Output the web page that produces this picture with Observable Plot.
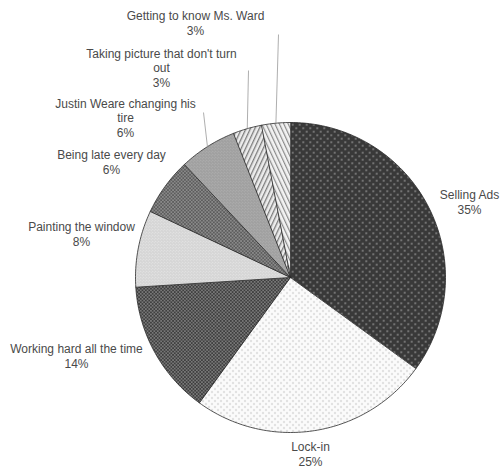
<!DOCTYPE html>
<html><head><meta charset="utf-8">
<script src="https://cdn.jsdelivr.net/npm/d3@7"></script>
<script src="https://cdn.jsdelivr.net/npm/@observablehq/plot@0.6"></script>
<style>body{margin:0;background:#fff}</style>
</head><body><div id="chart"></div>
<script>
// ---- data ----
const categories = ["Selling Ads","Lock-in","Working hard all the time","Painting the window","Being late every day","Justin Weare changing his tire","Taking picture that don't turn out","Getting to know Ms. Ward"];
const percents = [35, 25, 14, 8, 6, 6, 3, 3];
const labelText = ["Selling Ads","Lock-in","Working hard all the time","Painting the window","Being late every day","Justin Weare changing his\ntire","Taking picture that don't turn\nout","Getting to know Ms. Ward"];

// ---- layout ----
const W = 503, H = 469, CX = 290, CY = 277, R = 155;
const labelPos = [[469,201],[310,453],[76,355],[81,233],[111,161],[125,117],[161,67],[195,22]];
const leaderFrom = [null,null,null,null,null,[203,112],[248,70],[278,34]];
const ux = px => (px - CX) / R, uy = py => (CY - py) / R;

const arcs = d3.pie().sort(null).value(d => d)(percents);
const slicePts = [];
arcs.forEach((a, i) => {
  slicePts.push({name: categories[i], x: 0, y: 0});
  const n = Math.max(4, Math.ceil((a.endAngle - a.startAngle) / (Math.PI / 180)));
  for (let k = 0; k <= n; k++) {
    const t = a.startAngle + (a.endAngle - a.startAngle) * k / n;
    slicePts.push({name: categories[i], x: Math.sin(t), y: Math.cos(t)});
  }
});
const labels = categories.map((c, i) => ({
  name: c,
  text: labelText[i] + "\n" + percents[i] + "%",
  x: ux(labelPos[i][0]), y: uy(labelPos[i][1])
}));
const leaders = [];
arcs.forEach((a, i) => {
  if (!leaderFrom[i]) return;
  const m = (a.startAngle + a.endAngle) / 2;
  leaders.push({x1: ux(leaderFrom[i][0]), y1: uy(leaderFrom[i][1]), x2: Math.sin(m), y2: Math.cos(m)});
});
const patternIds = ["pSell","pLock","pWork","pPaint","pLate","pJustin","pPic","pWard"];

const chart = Plot.plot({
  width: W, height: H, margin: 0,
  style: {background: "#fff"},
  x: {domain: [ux(0), ux(W)], axis: null},
  y: {domain: [uy(H), uy(0)], axis: null},
  color: {type: "ordinal", domain: categories, range: patternIds.map(id => `url(#${id})`)},
  marks: [
    Plot.line(slicePts, {x: "x", y: "y", z: "name", fill: "name", stroke: "#2a2a2a", strokeWidth: 0.8, curve: "linear-closed"}),
    Plot.link(leaders, {x1: "x1", y1: "y1", x2: "x2", y2: "y2", stroke: "#999", strokeWidth: 0.8}),
    Plot.text(labels, {x: "x", y: "y", text: "text", fontSize: 12, lineHeight: 1.22, fill: "#4a4a4a", fontFamily: "'Liberation Sans', Arial, sans-serif"})
  ]
});
document.getElementById("chart").appendChild(chart);

// ---- patterns ----
const svg = d3.select(chart);
const defs = svg.insert("defs", ":first-child");
function dots(id, bg, dot, size, r) {
  const p = defs.append("pattern").attr("id", id).attr("patternUnits", "userSpaceOnUse").attr("width", size).attr("height", size);
  p.append("rect").attr("width", size).attr("height", size).attr("fill", bg);
  p.append("circle").attr("cx", size/4).attr("cy", size/4).attr("r", r).attr("fill", dot);
  p.append("circle").attr("cx", 3*size/4).attr("cy", 3*size/4).attr("r", r).attr("fill", dot);
}
function stripes(id, bg, fg, size, w, angle) {
  const p = defs.append("pattern").attr("id", id).attr("patternUnits", "userSpaceOnUse").attr("width", size).attr("height", size).attr("patternTransform", `rotate(${angle})`);
  p.append("rect").attr("width", size).attr("height", size).attr("fill", bg);
  p.append("rect").attr("width", w).attr("height", size).attr("fill", fg);
}
dots("pSell", "#393939", "#bdbdbd", 7, 0.8);
dots("pLock", "#fbfbfb", "#a8a8a8", 6, 0.7);
dots("pWork", "#3e3e3e", "#8c8c8c", 3.4, 0.85);
dots("pPaint", "#e6e6e6", "#a6a6a6", 3, 0.6);
dots("pLate", "#5c5c5c", "#9e9e9e", 3.4, 0.8);
dots("pJustin", "#b0b0b0", "#727272", 3, 0.6);
stripes("pPic", "#ececec", "#7c7c7c", 4, 1.3, 25);
stripes("pWard", "#f2f2f2", "#8a8a8a", 4, 1.2, -25);
</script>
</body></html>
